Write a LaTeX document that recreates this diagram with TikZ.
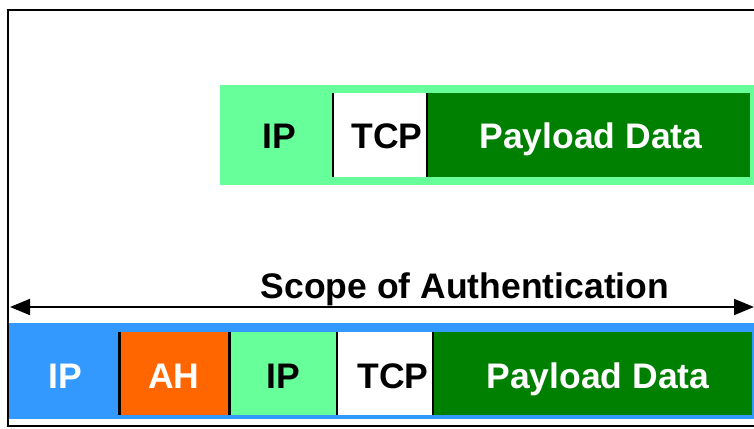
\documentclass[tikz,border=0pt]{standalone}
\usepackage{fontspec}
\setmainfont{Liberation Sans}
\usetikzlibrary{arrows.meta}
\definecolor{lgreen}{HTML}{66FF99}
\definecolor{dgreen}{HTML}{008000}
\definecolor{hblue}{HTML}{3399FF}
\definecolor{ahorange}{HTML}{FF6600}
\tikzset{
  lbl/.style={font=\fontsize{35.5}{36}\selectfont\bfseries, inner sep=0pt, anchor=base},
  dark/.style={lbl, text=black},
  light/.style={lbl, text=white},
  divider/.style={draw=black, line width=1.5pt},
  thickdiv/.style={draw=black, line width=3pt},
}
\begin{document}
\begin{tikzpicture}[x=1pt,y=-1pt]
\useasboundingbox (0,0) rectangle (754,428);
\fill[white] (0,0) rectangle (754,428);
% frame
\draw[line width=2.5pt] (760,10) -- (8,10) -- (8,426) -- (760,426);
% top packet
\fill[lgreen] (220,85) rectangle (756,185);
\fill[white] (333,93) rectangle (427,177);
\fill[dgreen] (427,93) rectangle (750,177);
\draw[divider] (333,93) -- (333,177);
\draw[divider] (427,93) -- (427,177);
\node[dark] (tip) at (279,148) {IP};
\node[dark] (ttcp) at (387,148) {TCP};
\node[light] (tpay) at (591,148) {Payload Data};
% arrow
\coordinate (al) at (10,307);
\coordinate (ar) at (754,307);
\draw[line width=1.8pt, {Triangle[length=20pt,width=16pt]}-{Triangle[length=20pt,width=16pt]}] (al) -- (ar);
\node[dark] (scope) at (465,298) {Scope of Authentication};
% bottom packet
\fill[hblue] (9,323) rectangle (756,419);
\fill[ahorange] (119,332) rectangle (229,415);
\fill[lgreen] (229,332) rectangle (337,415);
\fill[white] (337,332) rectangle (433,415);
\fill[dgreen] (433,332) rectangle (752,415);
\draw[thickdiv] (119.5,332) -- (119.5,415);
\draw[thickdiv] (229.5,332) -- (229.5,415);
\draw[divider] (337,332) -- (337,415);
\draw[divider] (433,332) -- (433,415);
\node[light] (bip) at (65,388) {IP};
\node[light] (bah) at (174,388) {AH};
\node[dark] (bip2) at (283,388) {IP};
\node[dark] (btcp) at (393,388) {TCP};
\node[light] (bpay) at (598,388) {Payload Data};
\end{tikzpicture}
\end{document}
